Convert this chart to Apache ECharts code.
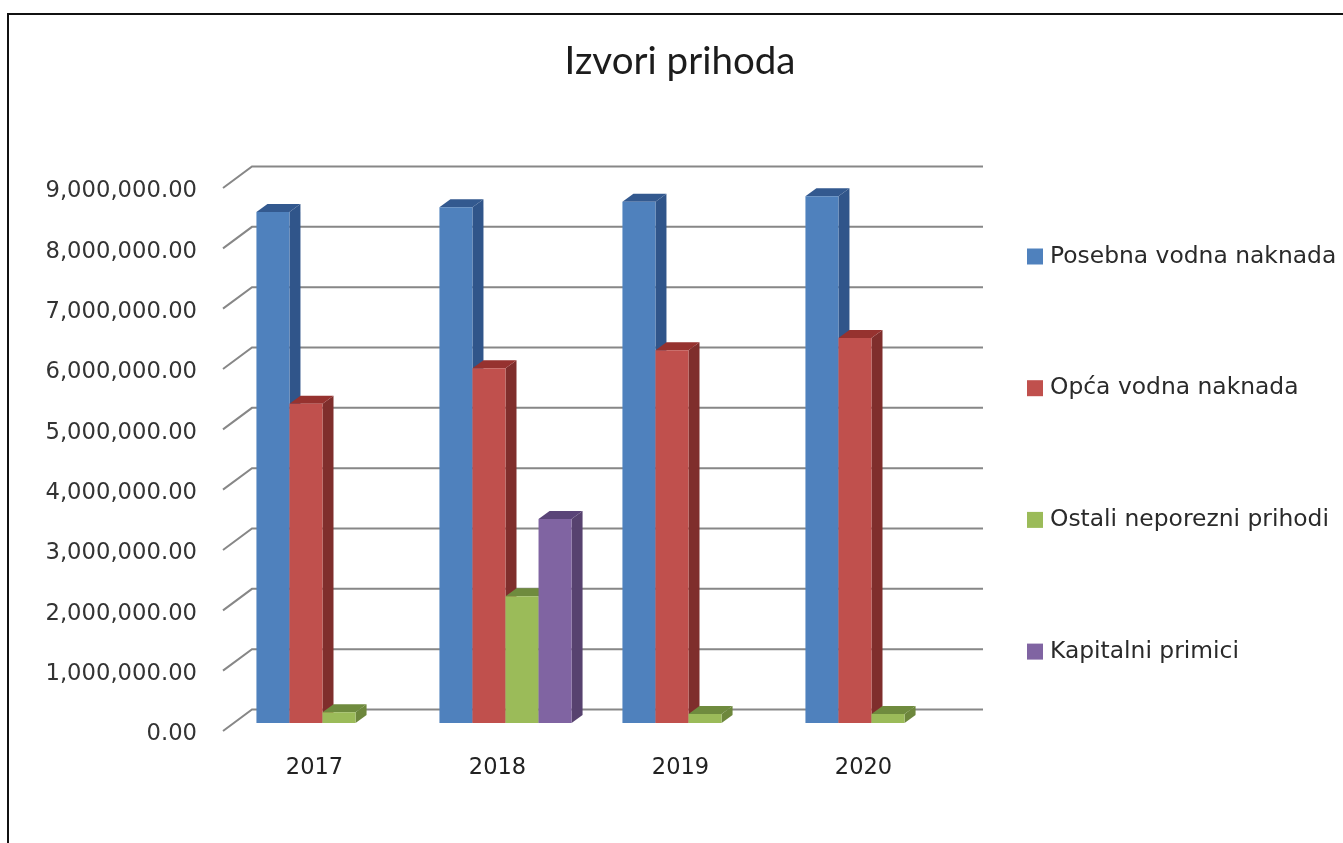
<!DOCTYPE html>
<html>
<head>
<meta charset="utf-8">
<style>html,body{margin:0;padding:0;background:#fff}#c{width:1343px;height:843px}</style>
<script src="https://cdn.jsdelivr.net/npm/echarts@6/dist/echarts.min.js"></script>
</head>
<body>
<div id="c"></div>
<script>
const chartTitle = 'Izvori prihoda';
const years = ['2017', '2018', '2019', '2020'];
const posebna = [8470000, 8550000, 8640000, 8730000];
const opca = [5290000, 5880000, 6180000, 6380000];
const ostali = [180000, 2100000, 150000, 150000];
const kapitalni = [null, 3380000, null, null];
const yTicks = [0, 1000000, 2000000, 3000000, 4000000, 5000000, 6000000, 7000000, 8000000, 9000000];
const names = ['Posebna vodna naknada', 'Opća vodna naknada', 'Ostali neporezni prihodi', 'Kapitalni primici'];
const seriesValues = [posebna, opca, ostali, kapitalni];
const faceColors = ['#4F81BD', '#C0504D', '#9BBB59', '#8064A2'];
const sideColors = ['#30558A', '#7F2E2C', '#6D873C', '#57426F'];
const topColors = ['#33598F', '#96322F', '#6F8B3E', '#5A4478'];

const font = 'DejaVu Sans';
const wallDx = 29, wallDy = -21.5;      // oblique projection of the chart's back wall
const floorDx = 8, floorDy = -8;        // front face of the bars relative to the front plane
const depthDx = 11, depthDy = -8;       // bar depth

function wallItem(params, api) {
  const p = api.coord([0, api.value(1)]);
  const cs = params.coordSys;
  const x0 = cs.x, y = p[1];
  const style = { stroke: '#878787', lineWidth: 2, fill: null };
  return {
    type: 'group',
    children: [
      { type: 'polyline', shape: { points: [[x0, y], [x0 + wallDx, y + wallDy], [x0 + cs.width + wallDx - 1, y + wallDy]] }, style }
    ]
  };
}

function barRenderer(seriesIdx) {
  return function (params, api) {
    const v = api.value(1);
    if (v === null || v === undefined || isNaN(v)) return null;
    const band = api.size([1, 0])[0];
    const w = band / 5.54;
    const c = api.coord([api.value(0), v]);
    const base = api.coord([api.value(0), 0]);
    const x = c[0] + floorDx + (seriesIdx - 2) * w;
    const yT = c[1] + floorDy, yB = base[1] + floorDy;
    return {
      type: 'group',
      children: [
        { type: 'polygon', shape: { points: [[x + w, yT], [x + w + depthDx, yT + depthDy], [x + w + depthDx, yB + depthDy], [x + w, yB]] }, style: { fill: sideColors[seriesIdx] } },
        { type: 'polygon', shape: { points: [[x, yT], [x + depthDx, yT + depthDy], [x + w + depthDx, yT + depthDy], [x + w, yT]] }, style: { fill: topColors[seriesIdx] } },
        { type: 'rect', shape: { x: x, y: yT, width: w, height: yB - yT }, style: { fill: faceColors[seriesIdx] } }
      ]
    };
  };
}

const chart = echarts.init(document.getElementById('c'), null, { renderer: 'canvas' });
chart.setOption({
  animation: false,
  backgroundColor: '#fff',
  title: {
    text: chartTitle, left: 675, top: 37, textAlign: 'center',
    textStyle: { fontFamily: 'Lato', fontSize: 38.5, fontWeight: 'normal', color: '#1c1c1c' }
  },
  legend: {
    orient: 'vertical', left: 1022, top: 240, itemWidth: 16, itemHeight: 16, itemGap: 108.7,
    data: names.map(n => ({ name: n, icon: 'rect' })),
    textStyle: { fontFamily: font, fontSize: 23.4, color: '#2a2a2a', padding: [0, 0, 0, 2] },
    selectedMode: false
  },
  grid: { left: 223, right: 388, top: 188, bottom: 112 },
  xAxis: {
    type: 'category', data: years,
    axisLine: { show: false }, axisTick: { show: false }, splitLine: { show: false },
    axisLabel: { margin: 26, fontFamily: font, fontSize: 22.5, color: '#222' }
  },
  yAxis: {
    type: 'value', min: 0, max: 9000000, interval: 1000000,
    axisLine: { show: false }, axisTick: { show: false }, splitLine: { show: false },
    axisLabel: {
      margin: 26,
      formatter: v => '{t|' + v.toLocaleString('en-US', { minimumFractionDigits: 2, maximumFractionDigits: 2 }) + '}',
      rich: { t: { fontFamily: font, fontSize: 22.7, color: '#333', padding: [7, 0, 0, 0] } }
    }
  },
  graphic: [{
    type: 'polyline', silent: true,
    shape: { points: [[8, 843], [8, 14], [1343, 14]] },
    style: { stroke: '#111', lineWidth: 2, fill: null }
  }],
  series: [
    { type: 'custom', name: 'wall', silent: true, clip: false, z: 1, renderItem: wallItem, data: yTicks.map(t => [0, t]), encode: { x: 0, y: 1 } }
  ].concat(seriesValues.map((vals, i) => ({
    type: 'custom', name: names[i], silent: true, clip: false, z: 2 + i,
    itemStyle: { color: faceColors[i] },
    renderItem: barRenderer(i),
    data: vals.map((v, k) => [k, v]),
    encode: { x: 0, y: 1 }
  })))
});
</script>
</body>
</html>
